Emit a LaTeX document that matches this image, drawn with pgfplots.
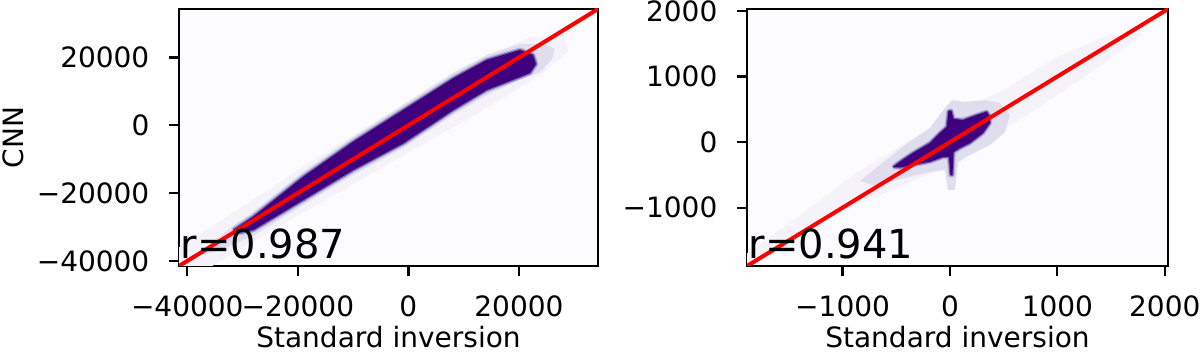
\documentclass[border=0pt]{standalone}
\usepackage{fontspec}
\setmainfont{DejaVu Sans}
\usepackage{pgfplots}
\pgfplotsset{compat=1.18}
\definecolor{pbg}{HTML}{FCFBFD}
\definecolor{pfaint}{HTML}{F5F3F9}
\definecolor{plight}{HTML}{E0DEEE}
\definecolor{pmid}{HTML}{B4B1D6}
\definecolor{pmed}{HTML}{7462AE}
\definecolor{pdark}{HTML}{3F007D}
\pgfplotsset{
  hist/.style={
    scale only axis,
    anchor=south west,
    height=128.5pt,
    axis background/.style={fill=pbg},
    tick align=outside,
    tick pos=left,
    major tick length=4.8pt,
    tick style={black, line width=1.1pt},
    axis line style={line width=1.1pt},
    tick label style={font=\fontsize{14}{16}\selectfont},
    xticklabel shift=6.5pt, yticklabel shift=6.5pt,
    label style={font=\fontsize{14}{16}\selectfont},
    scaled ticks=false,
    xlabel style={at={(axis description cs:0.5,-0.319)}, anchor=base, inner sep=0pt},
  },
}
\pgfplotstableread{
x y
-31676 -30876
-28058 -26954
-19013 -15158
-9968 -4836
-923 4512
8122 13860
14164 19257
20188 22206
22540 20731
23083 18077
21997 15423
20188 14244
14164 10410
8122 4512
-923 -5308
-9968 -13182
-19013 -22029
-28058 -30876
-31060 -31849
-31676 -30876
}\bandL
\pgfplotstableread{
x y
-531 -380
-466 -299
-345 -166
-186 -14
-93 139
-31 230
-14 470
12 480
33 352
121 337
249 413
342 464
372 387
372 291
307 139
186 -14
93 -90
33 -151
23 -502
5 -502
-9 -227
-65 -227
-186 -299
-345 -349
-466 -387
-531 -380
}\blobR
\begin{document}
\begin{tikzpicture}
\useasboundingbox (0,0) rectangle (600pt,176pt);
% ---------------- left panel ----------------
\begin{axis}[hist,
  at={(89.5pt,43pt)}, width=209.5pt,
  xmin=-41500, xmax=34300, ymin=-41500, ymax=34300,
  xtick={-40000,-20000,0,20000}, xticklabels={−40000,−20000,0,20000},
  ytick={-40000,-20000,0,20000}, yticklabels={−40000,−20000,0,20000},
  xlabel={Standard inversion}, ylabel={CNN},
  ylabel style={at={(axis description cs:-0.395,0.5)}, anchor=center, rotate=0},
]
% faint spread
\addplot[fill=pfaint, draw=none] coordinates {
 (-41500,-44000) (-41500,-36000) (-30000,-24000) (-15000,-8000) (0,7000) (15000,21000) (22000,26000) (28000,26500)
 (29000,22000) (24000,15000) (12000,3000) (0,-8000) (-15000,-22000) (-30000,-36000) (-38000,-44000)};
% light halo
\addplot[fill=plight, draw=none] coordinates {
 (-36795,-36184) (-31730,-29696) (-28112,-25568) (-19067,-13772) (-10022,-3450) (-977,5986) (8068,15423)
 (14219,20731) (20188,23975) (24711,23975) (26500,22500)
 (26000,19500) (23806,15718) (20188,13500) (14219,8935) (8068,3037) (-977,-6694) (-10022,-14657)
 (-19067,-23504) (-28112,-32645) (-34986,-37364) (-37700,-38249)};
% dark band with mid-tone fringe
\addplot[fill=pmid, draw=pmid, line width=2.4pt, line join=round] table {\bandL};
\addplot[fill=pdark, draw=pmed, line width=1.2pt, line join=round] table {\bandL};
\addplot[fill=pdark, draw=none] table {\bandL};
\addplot[red, line width=2pt] coordinates {(-41500,-41500) (34300,34300)};
\node[anchor=base west, inner sep=0pt, font=\fontsize{20}{24}\selectfont] at (rel axis cs:0.003,0.03) {r=0.987};
\end{axis}
% ---------------- right panel ----------------
\begin{axis}[hist,
  at={(373.5pt,43pt)}, width=210.5pt,
  xmin=-1890, xmax=2030, ymin=-1890, ymax=2030,
  xtick={-1000,0,1000,2000}, xticklabels={−1000,0,1000,2000},
  ytick={-1000,0,1000,2000}, yticklabels={−1000,0,1000,2000},
  xlabel={Standard inversion},
]
\addplot[fill=pfaint, draw=none] coordinates {
 (-1890,-1700) (-1300,-1000) (-900,-500) (-500,-100) (0,400) (500,800) (1000,1300) (1500,1650) (1800,1650)
 (1300,1050) (800,500) (400,100) (0,-350) (-500,-700) (-1000,-1050) (-1500,-1450) (-1890,-1890)};
\addplot[fill=plight, draw=none] coordinates {
 (-838,-593) (-652,-349) (-419,-44) (-186,215) (-47,520) (19,642) (140,612) (326,642) (466,596) (559,413)
 (512,154) (372,-44) (186,-197) (74,-303) (47,-730) (-19,-730) (-47,-425) (-186,-456) (-419,-547) (-698,-669)};
\addplot[fill=pmid, draw=pmid, line width=2.2pt, line join=round] table {\blobR};
\addplot[fill=pdark, draw=pmed, line width=1.1pt, line join=round] table {\blobR};
\addplot[fill=pdark, draw=none] table {\blobR};
\addplot[red, line width=2pt] coordinates {(-1890,-1890) (2030,2030)};
\node[anchor=base west, inner sep=0pt, font=\fontsize{20}{24}\selectfont] at (rel axis cs:0.003,0.03) {r=0.941};
\end{axis}
\end{tikzpicture}
\end{document}
